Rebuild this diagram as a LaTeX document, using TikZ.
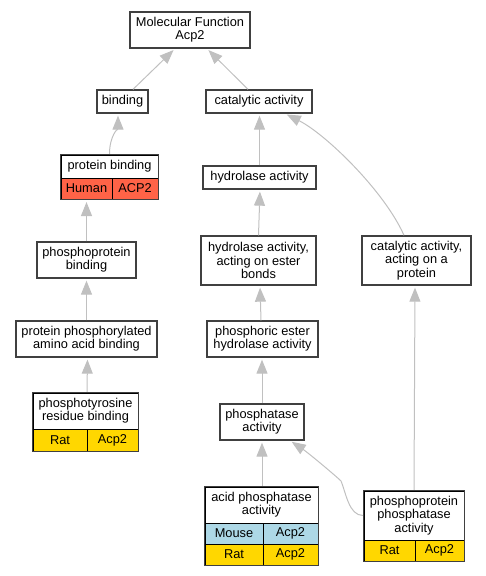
\documentclass[tikz,border=0pt]{standalone}
\usepackage{fontspec}
\setmainfont{Liberation Sans}
\usetikzlibrary{arrows.meta,fit}
\definecolor{bord}{HTML}{404040}
\definecolor{edgec}{HTML}{C0C0C0}
\definecolor{tomatoc}{HTML}{FF6347}
\definecolor{goldc}{HTML}{FFD700}
\definecolor{bluec}{HTML}{ADD8E6}
\begin{document}
\begin{tikzpicture}[x=1pt,y=-1pt,
  lbl/.style={font=\fontsize{12.8}{13.3}\selectfont},
  box/.style={lbl, draw=bord, line width=1.3pt, fill=white, inner sep=0pt, align=center},
  cell/.style={lbl, draw=black, line width=0.8pt, inner sep=0pt, align=center, fill=white},
  frame/.style={draw=bord, line width=1.3pt, inner sep=0pt},
  edge/.style={draw=edgec, line width=1pt, shorten >=2pt, -{Triangle[length=14pt,width=11pt]}}]
\useasboundingbox (0,0) rectangle (485,576);

% plain boxes
\node[box, minimum width=120pt, minimum height=36pt] (mf) at (190,30) {Molecular Function\\Acp2};
\node[box, minimum width=51pt, minimum height=23pt] (binding) at (122.5,101.5) {binding};
\node[box, minimum width=106pt, minimum height=23pt] (cat) at (259,101.5) {catalytic activity};
\node[box, minimum width=113pt, minimum height=23pt] (hyd) at (259.5,177.5) {hydrolase activity};
\node[box, minimum width=99pt, minimum height=36pt] (ppb) at (86.5,260) {phosphoprotein\\binding};
\node[box, minimum width=115pt, minimum height=49pt] (hydest) at (258.5,260.5) {hydrolase activity,\\acting on ester\\bonds};
\node[box, minimum width=109pt, minimum height=49pt] (catprot) at (416.5,260.5) {catalytic activity,\\acting on a\\protein};
\node[box, minimum width=141pt, minimum height=36pt] (ppaab) at (86.5,339) {protein phosphorylated\\amino acid binding};
\node[box, minimum width=111pt, minimum height=36pt] (phest) at (262.5,339) {phosphoric ester\\hydrolase activity};
\node[box, minimum width=84pt, minimum height=36pt] (phos) at (262,422) {phosphatase\\activity};

% table: protein binding
\node[cell, minimum width=97pt, minimum height=23pt] (pbh) at (109.5,166.5) {protein binding};
\node[cell, fill=tomatoc, minimum width=51pt, minimum height=21pt] (pbc1) at (86.5,188.5) {Human};
\node[cell, fill=tomatoc, minimum width=46pt, minimum height=21pt] (pbc2) at (135,188.5) {ACP2};
\node[frame, fit=(pbh)(pbc1)(pbc2)] (pb) {};

% table: phosphotyrosine residue binding
\node[cell, minimum width=105pt, minimum height=36pt] (pth) at (85.5,411) {phosphotyrosine\\residue binding};
\node[cell, fill=goldc, minimum width=54pt, minimum height=22pt] (ptc1) at (60,440) {Rat};
\node[cell, fill=goldc, minimum width=51pt, minimum height=22pt] (ptc2) at (112.5,440) {Acp2};
\node[frame, fit=(pth)(ptc1)(ptc2)] (pt) {};

% table: acid phosphatase activity
\node[cell, minimum width=113pt, minimum height=36pt] (aph) at (261.5,505) {acid phosphatase\\activity};
\node[cell, fill=bluec, minimum width=58pt, minimum height=21pt] (apc1) at (234,533.5) {Mouse};
\node[cell, fill=bluec, minimum width=55pt, minimum height=21pt] (apc2) at (290.5,533.5) {Acp2};
\node[cell, fill=goldc, minimum width=58pt, minimum height=21pt] (apc3) at (234,554.5) {Rat};
\node[cell, fill=goldc, minimum width=55pt, minimum height=21pt] (apc4) at (290.5,554.5) {Acp2};
\node[frame, fit=(aph)(apc1)(apc4)] (ap) {};

% table: phosphoprotein phosphatase activity
\node[cell, minimum width=100pt, minimum height=49pt] (pph) at (414,515.5) {phosphoprotein\\phosphatase\\activity};
\node[cell, fill=goldc, minimum width=51pt, minimum height=21pt] (ppc1) at (389.5,550.5) {Rat};
\node[cell, fill=goldc, minimum width=49pt, minimum height=21pt] (ppc2) at (439.5,550.5) {Acp2};
\node[frame, fit=(pph)(ppc1)(ppc2)] (pp) {};

\coordinate (bend) at (341,481);

% edges
\draw[edge] ([xshift=10.5pt]binding.north) -- ([xshift=-15pt]mf.south);
\draw[edge] ([xshift=-11pt]cat.north) -- ([xshift=17pt]mf.south);
\draw[edge] (pb.north) .. controls +(0,-18) and +(0,14) .. ([xshift=-4.5pt]binding.south);
\draw[edge] (hyd.north) -- (hyd.north |- cat.south);
\draw[edge] ([xshift=-12.5pt]catprot.north) .. controls +(-20,-45) and +(40,20) .. ([xshift=26pt]cat.south);
\draw[edge] (ppb.north) -- (ppb.north |- pb.south);
\draw[edge] (hydest.north) -- ([xshift=0.5pt]hyd.south);
\draw[edge] (ppaab.north) -- (ppb.south);
\draw[edge] ([xshift=-1.5pt]phest.north) -- ([xshift=1.5pt]hydest.south);
\draw[edge] ([xshift=1.5pt]pt.north) -- ([xshift=1pt]ppaab.south);
\draw[edge] (phos.north) -- (phos.north |- phest.south);
\draw[edge] ([xshift=0.5pt]ap.north) -- (phos.south);
\draw[edge] (pp.west |- pph.west) .. controls +(-14,0) and +(5,12) .. (bend) .. controls +(-5,-5) and +(18,12) .. ([xshift=28pt]phos.south);
\draw[edge] (pp.north) -- ([xshift=-1.5pt]catprot.south);
\end{tikzpicture}
\end{document}
